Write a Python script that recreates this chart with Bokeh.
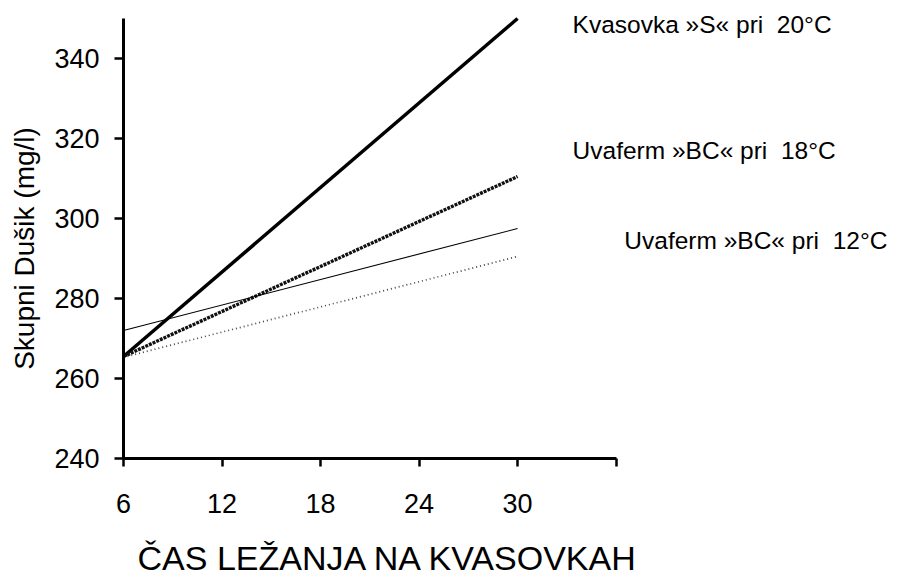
import math
from bokeh.plotting import figure
from bokeh.models import Range1d, FixedTicker, Label
from bokeh.embed import file_html
from bokeh.resources import INLINE

# ---- data ----
days = [6, 30]
kvasovka_s_20 = [265.5, 350.0]
uvaferm_bc_18 = [265.5, 310.5]
uvaferm_bc_12 = [272.0, 297.5]
unlabeled_series = [265.3, 290.5]

x_ticks = [6, 12, 18, 24, 30, 36]
x_tick_labels = {6: "6", 12: "12", 18: "18", 24: "24", 30: "30", 36: ""}
y_ticks = [240, 260, 280, 300, 320, 340]

series_labels = ["Kvasovka »S« pri \u00a020°C", "Uvaferm »BC« pri \u00a018°C", "Uvaferm »BC« pri \u00a012°C"]
x_title = "ČAS LEŽANJA NA KVASOVKAH"
y_title = "Skupni Dušik (mg/l)"

FONT = "Liberation Sans"

p = figure(width=901, height=575, output_backend="svg", toolbar_location=None,
           x_range=Range1d(-1.49, 53.38), y_range=Range1d(210.75, 354.5),
           min_border=0)
p.outline_line_color = None
p.xgrid.visible = False
p.ygrid.visible = False
p.background_fill_color = "white"
p.border_fill_color = "white"

# axes (fixed inside the frame so all texts share one frame)
xa = p.xaxis[0]
xa.fixed_location = 240
xa.bounds = (6, 36)
xa.ticker = FixedTicker(ticks=x_ticks)
xa.major_label_overrides = x_tick_labels
xa.axis_line_width = 3
xa.major_tick_line_width = 2.5
xa.major_tick_out = 8
xa.major_tick_in = 0
xa.minor_tick_line_color = None
xa.major_label_text_font = FONT
xa.major_label_text_font_size = "27px"
xa.major_label_text_color = "black"
xa.major_label_standoff = 27

ya = p.yaxis[0]
ya.fixed_location = 6
ya.bounds = (240, 350)
ya.ticker = FixedTicker(ticks=y_ticks)
ya.axis_line_width = 3
ya.major_tick_line_width = 2.5
ya.major_tick_out = 9
ya.major_tick_in = 0
ya.minor_tick_line_color = None
ya.major_label_text_font = FONT
ya.major_label_text_font_size = "27px"
ya.major_label_text_color = "black"
ya.major_label_standoff = 15

# lines
p.line(days, kvasovka_s_20, line_color="black", line_width=3.5)
p.line(days, uvaferm_bc_18, line_color="#111111", line_width=3.4, line_dash="3 1")
p.line(days, uvaferm_bc_12, line_color="black", line_width=1.1)
p.line(days, unlabeled_series, line_color="#444444", line_width=1.7, line_dash="1 3")

# series labels
label_pos = [(33.35, 348.5), (33.35, 317.0), (36.5, 294.5)]
for txt, (lx, ly) in zip(series_labels, label_pos):
    p.add_layout(Label(x=lx, y=ly, text=txt, text_font=FONT,
                       text_font_size="24.5px", text_color="black",
                       text_align="left", text_baseline="middle"))

# axis titles
p.add_layout(Label(x=22.14, y=215.25, text=x_title, text_font=FONT,
                   text_font_size="34px", text_color="black",
                   text_align="center", text_baseline="middle"))
p.add_layout(Label(x=0.0, y=292.5, text=y_title, text_font=FONT,
                   text_font_size="28px", text_color="black", angle=math.pi / 2,
                   text_align="center", text_baseline="middle"))

open("out.html", "w").write(file_html(p, INLINE))
